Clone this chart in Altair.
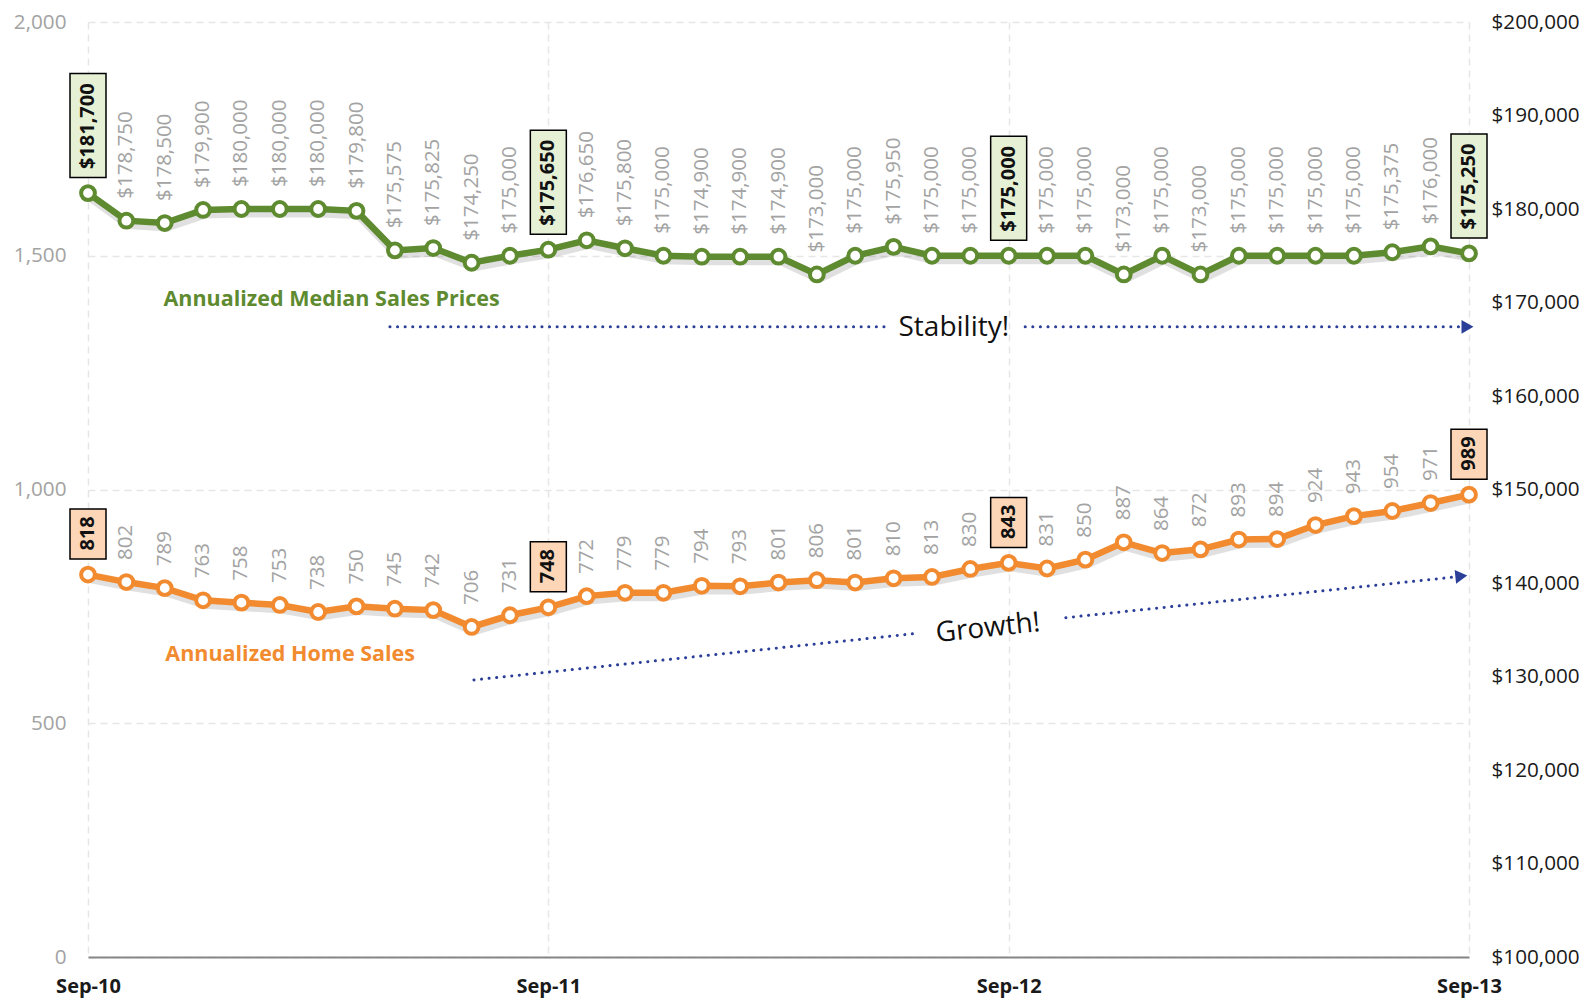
import json
import altair as alt
import pandas as pd

# ---------------- data ----------------
tick_labels = ["Sep-10", "Sep-11", "Sep-12", "Sep-13"]
tick_index = [0, 12, 24, 36]
highlight = [0, 12, 24, 36]

prices = [181700, 178750, 178500, 179900, 180000, 180000, 180000, 179800,
          175575, 175825, 174250, 175000, 175650, 176650, 175800, 175000,
          174900, 174900, 174900, 173000, 175000, 175950, 175000, 175000,
          175000, 175000, 175000, 173000, 175000, 173000, 175000, 175000,
          175000, 175000, 175375, 176000, 175250]
sales = [818, 802, 789, 763, 758, 753, 738, 750, 745, 742, 706, 731, 748,
         772, 779, 779, 794, 793, 801, 806, 801, 810, 813, 830, 843,
         831, 850, 887, 864, 872, 893, 894, 924, 943, 954, 971, 989]

left_ticks = [0, 500, 1000, 1500, 2000]
right_ticks = [100000, 110000, 120000, 130000, 140000, 150000,
               160000, 170000, 180000, 190000, 200000]

# annotation guides (in data units)
stab_x = [7.87, 20.78, 24.43, 35.8]
stab_y = [167400, 167400, 167400, 167400]
stab_seg = ["a", "a", "b", "b"]
stab_arrow = {"i": [35.96], "price": [167400]}
stab_text = {"i": [22.57], "price": [167270], "t": ["Stability!"]}
price_title = {"i": [6.35], "price": [170260], "t": ["Annualized Median Sales Prices"]}

grow_x = [10.06, 21.53, 25.49, 35.7]
grow_y = [592.7, 691.6, 725.8, 813.5]
grow_seg = ["a", "a", "b", "b"]
grow_arrow = {"i": [35.8], "sales": [814.5]}
grow_text = {"i": [23.46], "sales": [702.5], "t": ["Growth!"]}
sales_title = {"i": [5.27], "sales": [645.5], "t": ["Annualized Home Sales"]}

# ---------------- styles ----------------
GREEN = "#5e8a30"
ORANGE = "#f28b30"
NAVY = "#2b3f99"
GRAY = "#a3a3a3"
FONT = "Open Sans"

df = pd.DataFrame({"i": list(range(len(prices))), "price": prices, "sales": sales})
df["hl"] = df["i"].isin(highlight)

xs = alt.Scale(domain=[0, 36], nice=False, zero=False)
ys_sales = alt.Scale(domain=[0, 2000], nice=False, zero=False)
ys_price = alt.Scale(domain=[100000, 200000], nice=False, zero=False)

label_expr = f"{json.dumps(tick_labels)}[indexof({json.dumps(tick_index)}, datum.value)]"
x_axis = alt.Axis(values=tick_index, labelExpr=label_expr, title=None, orient="bottom",
                  labelFontSize=20, labelFontWeight="bold",
                  labelColor="#1a1a1a", labelPadding=19, tickSize=0, ticks=False,
                  domain=True, domainColor="#868686", domainWidth=2,
                  grid=True, gridColor="#e6e6e6", gridDash=[7, 5], gridWidth=1.5,
                  labelFlush=False)
left_axis = alt.Axis(values=left_ticks, labelExpr="format(datum.value, ',')", title=None,
                     orient="left", labelFontSize=20.7, labelColor=GRAY,
                     labelPadding=22, tickSize=0, ticks=False, domain=False,
                     grid=True, gridColor="#e6e6e6", gridDash=[7, 5], gridWidth=1.5)
right_axis = alt.Axis(values=right_ticks, labelExpr="format(datum.value, '$,.0f')", title=None,
                      orient="right", labelFontSize=20.7, labelColor="#1a1a1a",
                      labelPadding=22, tickSize=0, ticks=False, domain=False, grid=False)

base = alt.Chart(df)
box_price = "M-18,-15.5L18,-15.5L18,-119.5L-18,-119.5Z"
box_sales = "M-18,-15.5L18,-15.5L18,-65.5L-18,-65.5Z"


def series_layers(field, color, yscale, yaxis, xaxis, fmt, box_path, box_fill):
    X = alt.X("i:Q", scale=xs, title=None)
    Y = alt.Y(f"{field}:Q", scale=yscale, title=None)
    xa = alt.X("i:Q", scale=xs, title=None, axis=xaxis) if xaxis is not None else X
    shadow = base.mark_line(color="#000000", opacity=0.12, strokeWidth=9,
                            xOffset=2, yOffset=4).encode(
        x=xa, y=alt.Y(f"{field}:Q", scale=yscale, title=None, axis=yaxis))
    line = base.mark_line(color=color, strokeWidth=6.5).encode(x=X, y=Y)
    pts = base.mark_point(shape="circle", filled=True, fill="white", stroke=color,
                          strokeWidth=4, size=190, opacity=1).encode(x=X, y=Y)
    labels = base.transform_filter("!datum.hl").mark_text(
        angle=270, align="left", baseline="middle", dx=22, font=FONT,
        fontSize=20.5, color=GRAY).encode(x=X, y=Y, text=alt.Text(f"{field}:Q", format=fmt))
    boxes = base.transform_filter("datum.hl").mark_point(
        shape=box_path, size=4, filled=True, fill=box_fill, stroke="#000000",
        strokeWidth=1.5, opacity=1).encode(x=X, y=Y)
    box_labels = base.transform_filter("datum.hl").mark_text(
        angle=270, align="left", baseline="middle", dx=24, font=FONT,
        fontSize=20, fontWeight="bold", color="#111111").encode(
        x=X, y=Y, text=alt.Text(f"{field}:Q", format=fmt))
    return [shadow, line, pts, labels, boxes, box_labels]


sales_layers = series_layers("sales", ORANGE, ys_sales, left_axis, x_axis, "d", box_sales, "#fcd6b6")
price_layers = series_layers("price", GREEN, ys_price, right_axis, None, "$,.0f", box_price, "#e6f0d4")

Xa = alt.X("i:Q", scale=xs, title=None)
Ys = alt.Y("sales:Q", scale=ys_sales, title=None)
Yp = alt.Y("price:Q", scale=ys_price, title=None)

grow_df = pd.DataFrame({"i": grow_x, "sales": grow_y, "seg": grow_seg})
grow_line = alt.Chart(grow_df).mark_line(color=NAVY, strokeWidth=3, strokeDash=[0.1, 7.5],
                                         strokeCap="round").encode(x=Xa, y=Ys, detail="seg:N")
grow_arr = alt.Chart(pd.DataFrame(grow_arrow)).mark_point(
    shape="triangle-right", size=190, filled=True, color=NAVY, opacity=1, angle=354).encode(x=Xa, y=Ys)
grow_txt = alt.Chart(pd.DataFrame(grow_text)).mark_text(
    font=FONT, fontSize=28, color="#111111", angle=354, align="center", baseline="middle").encode(
    x=Xa, y=Ys, text="t:N")
sales_ttl = alt.Chart(pd.DataFrame(sales_title)).mark_text(
    font=FONT, fontSize=21.5, fontWeight="bold", color=ORANGE, align="center", baseline="middle").encode(
    x=Xa, y=Ys, text="t:N")

stab_df = pd.DataFrame({"i": stab_x, "price": stab_y, "seg": stab_seg})
stab_line = alt.Chart(stab_df).mark_line(color=NAVY, strokeWidth=3, strokeDash=[0.1, 7.5],
                                         strokeCap="round").encode(x=Xa, y=Yp, detail="seg:N")
stab_arr = alt.Chart(pd.DataFrame(stab_arrow)).mark_point(
    shape="triangle-right", size=190, filled=True, color=NAVY, opacity=1).encode(x=Xa, y=Yp)
stab_txt = alt.Chart(pd.DataFrame(stab_text)).mark_text(
    font=FONT, fontSize=28, color="#111111", align="center", baseline="middle").encode(
    x=Xa, y=Yp, text="t:N")
price_ttl = alt.Chart(pd.DataFrame(price_title)).mark_text(
    font=FONT, fontSize=21.5, fontWeight="bold", color=GREEN, align="center", baseline="middle").encode(
    x=Xa, y=Yp, text="t:N")

sales_group = alt.layer(*sales_layers, grow_line, grow_arr, grow_txt, sales_ttl)
price_group = alt.layer(*price_layers, stab_line, stab_arr, stab_txt, price_ttl)

chart = alt.layer(sales_group, price_group).resolve_scale(y="independent").properties(
    width=1381, height=935,
    padding={"left": 80, "top": 14, "right": 110, "bottom": 42},
    autosize=alt.AutoSizeParams(type="none"),
    background="white",
).configure_view(stroke=None).configure_axis(
    labelFont=FONT, grid=False, ticks=False, domain=False
)

chart.save("out.html", embed_options={"renderer": "svg", "actions": False})
